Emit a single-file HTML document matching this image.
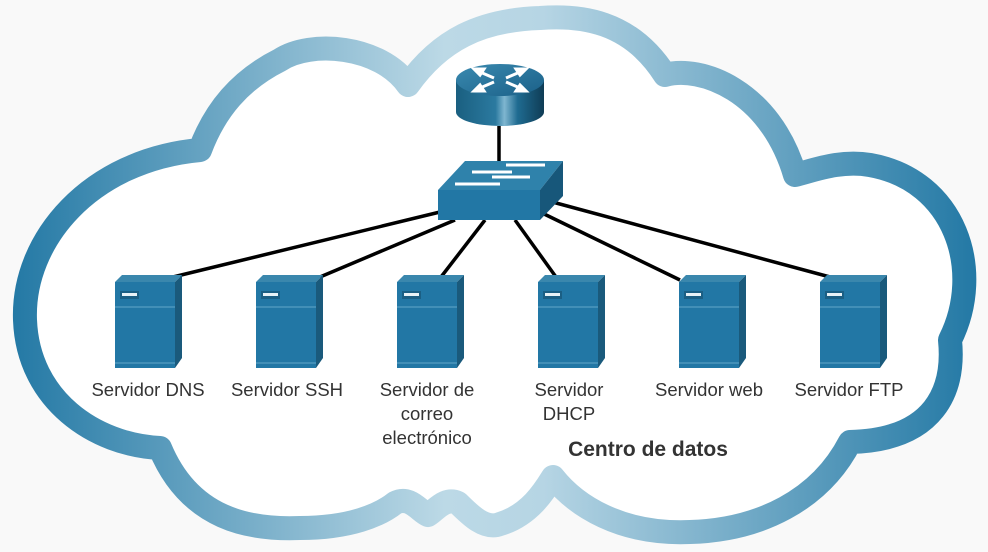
<!DOCTYPE html>
<html><head><meta charset="utf-8"><style>
html,body{margin:0;padding:0;background:#f9f9f9;}
svg{display:block}
text{font-family:"Liberation Sans",sans-serif;fill:#333;}
</style></head><body>
<svg width="988" height="552" viewBox="0 0 988 552" xmlns="http://www.w3.org/2000/svg">
<defs>
<linearGradient id="cg" gradientUnits="userSpaceOnUse" x1="0" y1="0" x2="988" y2="0">
<stop offset="0" stop-color="#1f76a3"/>
<stop offset="0.45" stop-color="#bcd9e6"/>
<stop offset="0.55" stop-color="#b6d5e4"/>
<stop offset="1" stop-color="#1f76a3"/>
</linearGradient>
<linearGradient id="rb" x1="0" y1="0" x2="1" y2="0">
<stop offset="0" stop-color="#1a5f80"/><stop offset="0.45" stop-color="#2b7aa0"/>
<stop offset="0.55" stop-color="#7fb6d0"/><stop offset="0.7" stop-color="#1f6b91"/>
<stop offset="1" stop-color="#0f3c55"/></linearGradient>
<linearGradient id="rt" x1="0" y1="0" x2="1" y2="1">
<stop offset="0" stop-color="#3a8ab0"/><stop offset="1" stop-color="#1b6088"/></linearGradient>
<g id="srv">
<polygon points="0,5 7,-2 67,-2 60,5" fill="#3a87ad"/>
<polygon points="60,5 67,-2 67,81 60,91" fill="#1a5a7c"/>
<rect x="0" y="5" width="60" height="86" fill="#2277a5"/>
<line x1="0" y1="30" x2="60" y2="30" stroke="#4d97bd" stroke-width="1.5"/>
<line x1="0" y1="86" x2="60" y2="86" stroke="#4d97bd" stroke-width="1.5"/>
<rect x="5" y="14" width="19" height="8" fill="#1b5f84"/>
<rect x="7" y="16" width="15" height="3" fill="#e8f2f7"/>
</g>
</defs>
<path d="M200,150 C90,160 22,240 25,320 C28,400 95,445 160,448 C190,520 250,530 300,528 C350,528 380,515 395,503 C410,495 420,512 428,515 C436,510 445,497 458,503 C470,515 485,530 500,524 C530,515 545,490 553,477 C575,505 620,535 690,532 C760,530 820,500 850,442 C935,440 955,390 950,340 C985,270 955,180 870,165 C840,160 815,170 795,175 C770,90 700,65 665,75 C630,20 580,15 540,18 C480,20 440,40 408,85 C380,45 310,40 280,60 C240,80 215,110 200,150 Z" fill="#ffffff" stroke="url(#cg)" stroke-width="24" stroke-linejoin="round"/>
<g stroke="#000" stroke-width="3.5">
<line x1="499" y1="126" x2="499" y2="162"/>
<line x1="440" y1="212" x2="173" y2="277"/>
<line x1="455" y1="220" x2="320" y2="277"/>
<line x1="485" y1="220" x2="441" y2="277"/>
<line x1="515" y1="220" x2="556" y2="277"/>
<line x1="540" y1="212" x2="680" y2="280"/>
<line x1="545" y1="200" x2="830" y2="277"/>
</g>
<!-- router -->
<path d="M456,80 L456,112 A44,14 0 0 0 544,112 L544,80 Z" fill="url(#rb)"/>
<ellipse cx="500" cy="80" rx="44" ry="16" fill="url(#rt)"/>
<g stroke="#fff" stroke-width="3" fill="#fff">
<line x1="480" y1="72" x2="494" y2="78"/><polygon points="474,69 484,69 480,75"/>
<line x1="506" y1="82" x2="520" y2="88"/><polygon points="526,91 516,91 520,85"/>
<line x1="520" y1="72" x2="506" y2="78"/><polygon points="526,69 516,69 520,75"/>
<line x1="494" y1="82" x2="480" y2="88"/><polygon points="474,91 484,91 480,85"/>
</g>
<!-- switch -->
<polygon points="438,190 465,161 563,161 540,190" fill="#2f82ab"/>
<polygon points="540,190 563,161 563,196 540,220" fill="#17577a"/>
<rect x="438" y="190" width="102" height="30" fill="#2277a5"/>
<g stroke="#fff" stroke-width="3">
<line x1="506" y1="165" x2="545" y2="165"/><line x1="472" y1="172" x2="512" y2="172"/>
<line x1="492" y1="177" x2="530" y2="177"/><line x1="455" y1="184" x2="500" y2="184"/>
</g>
<use href="#srv" x="115" y="277"/>
<use href="#srv" x="256" y="277"/>
<use href="#srv" x="397" y="277"/>
<use href="#srv" x="538" y="277"/>
<use href="#srv" x="679" y="277"/>
<use href="#srv" x="820" y="277"/>
<g font-size="18.5" text-anchor="middle">
<text x="148" y="396">Servidor DNS</text>
<text x="287" y="396">Servidor SSH</text>
<text x="427" y="396">Servidor de</text>
<text x="427" y="420">correo</text>
<text x="427" y="444">electrónico</text>
<text x="569" y="396">Servidor</text>
<text x="569" y="420">DHCP</text>
<text x="709" y="396">Servidor web</text>
<text x="849" y="396">Servidor FTP</text>
<text x="648" y="456" font-weight="bold" font-size="21">Centro de datos</text>
</g>
</svg>
</body></html>
